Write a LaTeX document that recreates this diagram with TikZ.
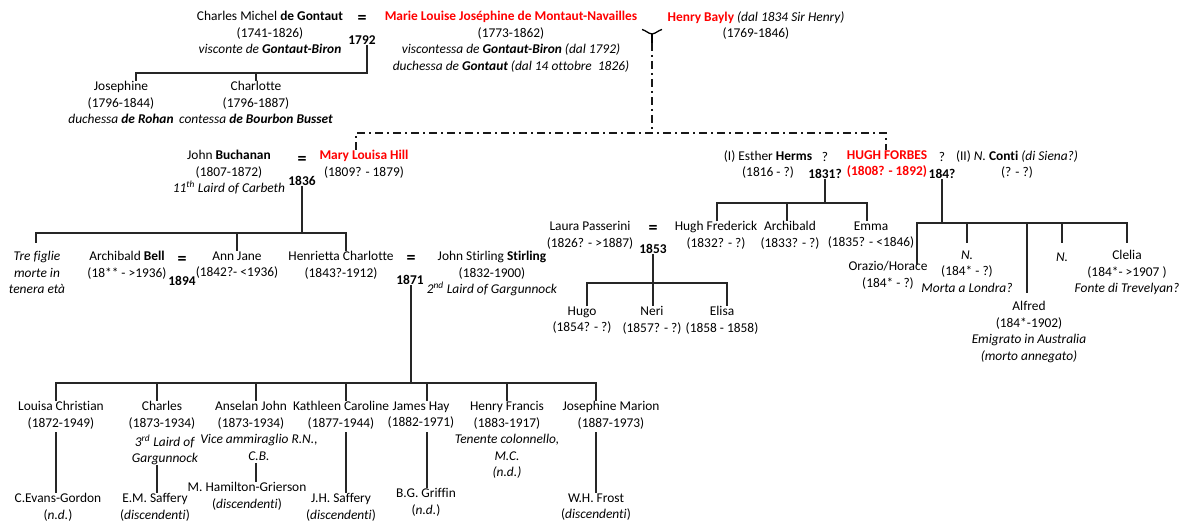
\documentclass[tikz,border=0pt]{standalone}
\usepackage{fontspec}
\setmainfont{Carlito}[Ligatures=NoCommon]
\newcommand{\redb}[1]{\textcolor{red}{\textbf{#1}}}
\begin{document}
\begin{tikzpicture}[x=1pt,y=-1pt,
  p/.style={align=center, inner sep=0pt, anchor=north, yshift=6.7pt,
    font=\fontsize{13.4}{16.5}\selectfont, execute at begin node={\rule{0pt}{11pt}}},
  eqs/.style={inner sep=0pt, anchor=center, font=\fontsize{18}{18}\selectfont\bfseries},
  ln/.style={line width=1.1pt, draw=black!85},
  dd/.style={line width=2pt, draw=black!90, dash pattern=on 8pt off 4pt on 2pt off 4pt}]
\useasboundingbox (0,0) rectangle (1182,521);

% ---------- generation 0 ----------
\node[p] (cm) at (270,18) {Charles Michel \textbf{de Gontaut}\\(1741-1826)\\\textit{visconte de \textbf{Gontaut-Biron}}};
\node[eqs] (eq1) at (362,19) {=};
\node[p] (y1792) at (362,40) {\textbf{1792}};
\node[p] (ml) at (511,18) {\redb{Marie Louise Joséphine de Montaut-Navailles}\\(1773-1862)\\\textit{viscontessa de \textbf{Gontaut-Biron} (dal 1792)}\\\textit{duchessa de \textbf{Gontaut} (dal 14 ottobre\ \ 1826)}};
\node[p] (hb) at (756,18) {\redb{Henry Bayly} \textit{(dal 1834 Sir Henry)}\\(1769-1846)};

\node[p] (jos) at (121,88) {Josephine\\(1796-1844)\\\textit{duchessa \textbf{de Rohan}}};
\node[p] (cha) at (256,88) {Charlotte\\(1796-1887)\\\textit{contessa \textbf{de Bourbon Busset}}};

\coordinate (b1) at (367,73);
\draw[ln] (b1 |- y1792.south) -- (b1) -| (jos.north -| 136,0);
\draw[ln] (b1) -| (cha.north);

% liaison symbol and dash-dot line
\coordinate (lk) at (652,34);
\draw[line width=1.3pt] (642,29.5) .. controls (646,30.5) and (648,33.5) .. (lk) .. controls (656,33.5) and (658,30.5) .. (662,29.5);
\draw[line width=2pt] (lk) -- (652,43);
\coordinate (dj) at (652,133);
\draw[dd] (652,43) -- (dj);
\draw[dd] (356,150) |- (dj) -| (886,150);

% ---------- Buchanan / Hill ----------
\node[p] (jb) at (229,157) {John \textbf{Buchanan}\\(1807-1872)\\\textit{11\textsuperscript{th} Laird of Carbeth}};
\node[eqs] (eq2) at (302,160) {=};
\node[p] (y1836) at (302,181) {\textbf{1836}};
\node[p] (mlh) at (364,157) {\redb{Mary Louisa Hill}\\(1809? - 1879)};

\node[p] (tre) at (37,258) {\textit{Tre figlie}\\\textit{morte in}\\\textit{tenera età}};
\node[p] (ab) at (127,258) {Archibald \textbf{Bell}\\(18** - >1936)};
\node[eqs] (eq3) at (182,260) {=};
\node[p] (y1894) at (182,281) {\textbf{1894}};
\node[p] (anj) at (237,258) {Ann Jane\\(1842?- <1936)};
\node[p] (hc) at (341,258) {Henrietta Charlotte\\(1843?-1912)};
\node[eqs] (eq4) at (411,259) {=};
\node[p] (y1871) at (410,280) {\textbf{1871}};
\node[p] (jss) at (492,258) {John Stirling \textbf{Stirling}\\(1832-1900)\\\textit{2\textsuperscript{nd} Laird of Gargunnock}};

\coordinate (b2) at (302,233);
\draw[ln] (b2 |- y1836.south) -- (b2);
\draw[ln] (36,243) |- (b2) -| (hc.north -| 346,0);
\draw[ln] (anj.north |- b2) -- (anj.north);

% ---------- Forbes ----------
\node[p] (eh) at (768,157) {(I) Esther \textbf{Herms}\\(1816 - ?)};
\node[p] (q1) at (825,157) {?};
\node[p] (y1831) at (825,174) {\textbf{1831?}};
\node[p] (hf) at (887,157) {\redb{HUGH FORBES}\\\redb{(1808? - 1892)}};
\node[p] (q2) at (942,157) {?};
\node[p] (y184) at (942,174) {\textbf{184?}};
\node[p] (nc) at (1017,157) {(II) \textit{N.} \textbf{Conti} \textit{(di Siena?)}\\(? - ?)};

\node[p] (hfr) at (716,228) {Hugh Frederick\\(1832? - ?)};
\node[p] (arc) at (790,228) {Archibald\\(1833? - ?)};
\node[p] (emma) at (871,228) {Emma\\(1835? - <1846)};
\coordinate (b3) at (825,203);
\draw[ln] (b3 |- y1831.south) -- (b3);
\draw[ln] (hfr.north -| 717,0) |- (b3) -| (emma.north -| 867,0);
\draw[ln] (787,203) -- (arc.north -| 787,0);

\node[p] (lp) at (590,228) {Laura Passerini\\(1826? - >1887)};
\node[eqs] (eq5) at (653,229) {=};
\node[p] (y1853) at (653,249) {\textbf{1853}};
\node[p] (hugo) at (582,313) {Hugo\\(1854? - ?)};
\node[p] (neri) at (652,313) {Neri\\(1857? - ?)};
\node[p] (elisa) at (722,313) {Elisa\\(1858 - 1858)};
\coordinate (b4) at (653,283);
\draw[ln] (b4 |- y1853.south) -- (b4);
\draw[ln] (hugo.north -| 587,0) |- (b4) -| (elisa.north -| 727,0);
\draw[ln] (b4) -- (neri.north -| 653,0);

\node[p] (ora) at (888,268) {Orazio/Horace\\(184* - ?)};
\node[p] (n1) at (967,257) {\textit{N.}\\(184* - ?)\\\textit{Morta a Londra?}};
\node[p] (alf) at (1029,308) {Alfred\\(184*-1902)\\\textit{Emigrato in Australia}\\\textit{(morto annegato)}};
\node[p] (n2) at (1062,257) {\textit{N.}};
\node[p] (cle) at (1127,257) {Clelia\\(184*- >1907 )\\\textit{Fonte di Trevelyan?}};
\coordinate (b5) at (942,223);
\draw[ln] (b5 |- y184.south) -- (b5);
\draw[ln] (917,265) |- (b5) -| (1127,243);
\draw[ln] (967,223) -- (967,243);
\draw[ln] (1027,223) -- (1027,293);
\draw[ln] (1062,223) -- (1062,243);

% ---------- Stirling children ----------
\node[p] (lc) at (61,408) {Louisa Christian\\(1872-1949)};
\node[p] (ch) at (162,408) {Charles\\(1873-1934)};
\node[p] (chn) at (165,441) {\textit{3\textsuperscript{rd} Laird of}\\\textit{Gargunnock}};
\node[p] (aj) at (251,408) {Anselan John\\(1873-1934)};
\node[p] (ajn) at (259,441) {\textit{Vice ammiraglio R.N.,}\\\textit{C.B.}};
\node[p] (kc) at (341,408) {Kathleen Caroline\\(1877-1944)};
\node[p] (jh) at (421,408) {James Hay\\(1882-1971)};
\node[p] (hfz) at (507,408) {Henry Francis\\(1883-1917)\\\textit{Tenente colonnello,}\\\textit{M.C.}\\\textit{(n.d.)}};
\node[p] (jm) at (611,408) {Josephine Marion\\(1887-1973)};

\coordinate (b6) at (411,383);
\draw[ln] (b6 |- y1871.south) -- (b6);
\draw[ln] (lc.north -| 56,0) |- (b6) -| (jm.north -| 596,0);
\draw[ln] (157,383) -- (ch.north -| 157,0);
\draw[ln] (256,383) -- (aj.north -| 256,0);
\draw[ln] (346,383) -- (kc.north -| 346,0);
\draw[ln] (427,383) -- (jh.north -| 427,0);
\draw[ln] (507,383) -- (hfz.north -| 507,0);

\node[p] (ceg) at (58,500) {C.Evans-Gordon\\(\textit{n.d.})};
\node[p] (ems) at (155,500) {E.M. Saffery\\(\textit{discendenti})};
\node[p] (mhg) at (247,489) {M. Hamilton-Grierson\\(\textit{discendenti})};
\node[p] (jhs) at (341,500) {J.H. Saffery\\(\textit{discendenti})};
\node[p] (bgg) at (426,495) {B.G. Griffin\\(\textit{n.d.})};
\node[p] (whf) at (596,500) {W.H. Frost\\(\textit{discendenti})};

\draw[ln] (56,432) -- (ceg.north -| 56,0);
\draw[ln] (157,465) -- (ems.north -| 157,0);
\draw[ln] (256,463) -- (mhg.north -| 256,0);
\draw[ln] (346,432) -- (jhs.north -| 346,0);
\draw[ln] (427,432) -- (bgg.north -| 427,0);
\draw[ln] (596,432) -- (whf.north -| 596,0);
\end{tikzpicture}
\end{document}
